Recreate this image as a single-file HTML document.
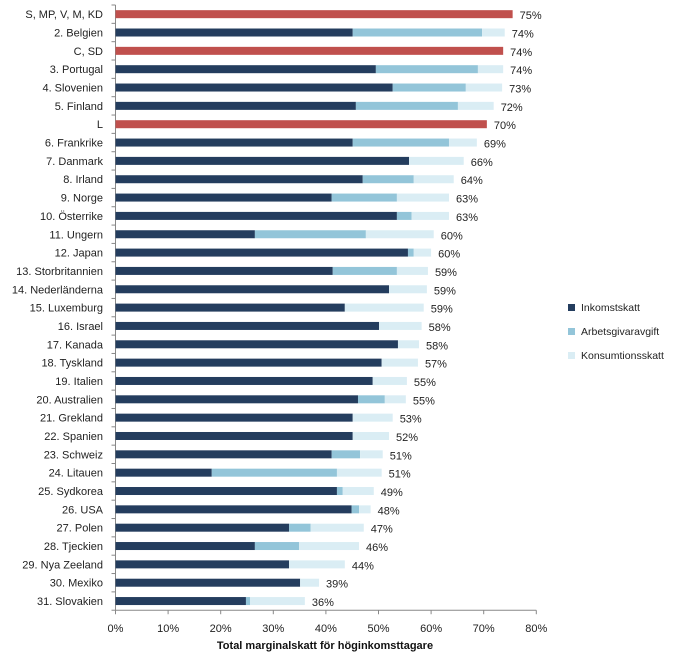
<!DOCTYPE html>
<html><head><meta charset="utf-8"><style>
body{margin:0;background:#fff;}
svg text{font-family:"Liberation Sans","DejaVu Sans",sans-serif;}
</style></head><body>
<svg id="chart" width="682" height="660" xmlns="http://www.w3.org/2000/svg">
<g id="grid"></g><g id="bars"></g><g id="labels"></g>
<text x="325" y="649" font-size="11" font-weight="bold" text-anchor="middle" fill="#111">Total marginalskatt  för höginkomsttagare</text>
<g>
<rect x="568" y="304" width="7" height="7" fill="#243d5e"/>
<text x="581" y="311" font-size="10.5" fill="#222">Inkomstskatt</text>
<rect x="568" y="328" width="7" height="7" fill="#93c5d9"/>
<text x="581" y="335" font-size="10.5" fill="#222">Arbetsgivaravgift</text>
<rect x="568" y="352" width="7" height="7" fill="#daedf4"/>
<text x="581" y="359" font-size="10.5" fill="#222">Konsumtionsskatt</text>
</g>
</svg>
<script>
const categories=["S, MP, V, M, KD","2. Belgien","C, SD","3. Portugal","4. Slovenien","5. Finland","L","6. Frankrike","7. Danmark","8. Irland","9. Norge","10. Österrike","11. Ungern","12. Japan","13. Storbritannien","14. Nederländerna","15. Luxemburg","16. Israel","17. Kanada","18. Tyskland","19. Italien","20. Australien","21. Grekland","22. Spanien","23. Schweiz","24. Litauen","25. Sydkorea","26. USA","27. Polen","28. Tjeckien","29. Nya Zeeland","30. Mexiko","31. Slovakien"];
const partyTotal=[75.5,0,73.7,0,0,0,70.6,0,0,0,0,0,0,0,0,0,0,0,0,0,0,0,0,0,0,0,0,0,0,0,0,0,0];
const inkomstskatt=[0,45.1,0,49.5,52.7,45.7,0,45.1,55.8,47.0,41.1,53.5,26.5,55.6,41.3,52.0,43.6,50.1,53.7,50.6,48.9,46.1,45.1,45.1,41.1,18.3,42.1,44.9,33.0,26.5,33.0,35.1,24.8];
const arbetsgivaravgift=[0,24.6,0,19.4,13.9,19.4,0,18.3,0,9.7,12.4,2.8,21.1,1.1,12.2,0,0,0,0,0,0,5.1,0,0,5.4,23.8,1.1,1.4,4.1,8.4,0,0,0.8];
const konsumtionsskatt=[0,4.3,0,4.8,6.9,6.8,0,5.3,10.4,7.6,9.9,7.1,12.9,3.3,5.9,7.2,15.0,8.1,4.0,6.9,6.5,4.0,7.6,6.9,4.3,8.5,5.9,2.2,10.1,11.4,10.6,3.6,10.4];
const valueLabels=["75%","74%","74%","74%","73%","72%","70%","69%","66%","64%","63%","63%","60%","60%","59%","59%","59%","58%","58%","57%","55%","55%","53%","52%","51%","51%","49%","48%","47%","46%","44%","39%","36%"];
const xTicks=[0,10,20,30,40,50,60,70,80];

const NS="http://www.w3.org/2000/svg";
const x0=115.5,pxPer=5.26,yTop=5,rowH=18.34,barH=8;
function xs(v){return x0+v*pxPer;}
function yc(i){return yTop+rowH*(i+0.5);}
function mk(tag,attrs,parent){const e=document.createElementNS(NS,tag);for(const k in attrs)e.setAttribute(k,attrs[k]);parent.appendChild(e);return e;}
const grid=document.getElementById('grid'),bars=document.getElementById('bars'),labels=document.getElementById('labels');
const yBottom=yTop+rowH*categories.length;
let ax=mk('line',{x1:x0,y1:yTop,x2:x0,y2:yBottom,stroke:'#888','stroke-width':1},grid);


let bx=mk('line',{x1:x0,y1:yBottom,x2:xs(80),y2:yBottom,stroke:'#888','stroke-width':1},grid);


for(let i=0;i<=categories.length;i++){
  let t=mk('line',{x1:x0-4,y1:yTop+rowH*i,x2:x0,y2:yTop+rowH*i,stroke:'#888'},grid);
  
  
}
xTicks.forEach(v=>{
  let t=mk('line',{x1:xs(v),y1:yBottom,x2:xs(v),y2:yBottom+4,stroke:'#888'},grid);
  
  
  let l=mk('text',{x:xs(v),y:yBottom+22,'font-size':11,'text-anchor':'middle',fill:'#222'},grid);
  l.textContent=v+'%';
  
  
});
categories.forEach((c,i)=>{
  const y=yc(i)-barH/2;
  let l=mk('text',{x:103,y:yc(i)+4,'font-size':11,'text-anchor':'end',fill:'#222'},labels);
  l.textContent=c;
  
  
  let end;
  if(partyTotal[i]>0){
    let r=mk('rect',{x:xs(0),y:y,width:xs(partyTotal[i])-xs(0),height:barH,fill:'#c0504d'},bars);
    
    
    end=partyTotal[i];
  } else {
    const a=inkomstskatt[i],b=arbetsgivaravgift[i],k=konsumtionsskatt[i];
    let r1=mk('rect',{x:xs(0),y:y,width:xs(a)-xs(0),height:barH,fill:'#243d5e'},bars);
    
    
    let r2=mk('rect',{x:xs(a),y:y,width:xs(a+b)-xs(a),height:barH,fill:'#93c5d9'},bars);
    
    
    let r3=mk('rect',{x:xs(a+b),y:y,width:xs(a+b+k)-xs(a+b),height:barH,fill:'#daedf4'},bars);
    
    
    end=a+b+k;
  }
  let v=mk('text',{x:xs(end)+7,y:yc(i)+5,'font-size':11,fill:'#222'},labels);
  v.textContent=valueLabels[i];
  
  
});
</script>
</body></html>
